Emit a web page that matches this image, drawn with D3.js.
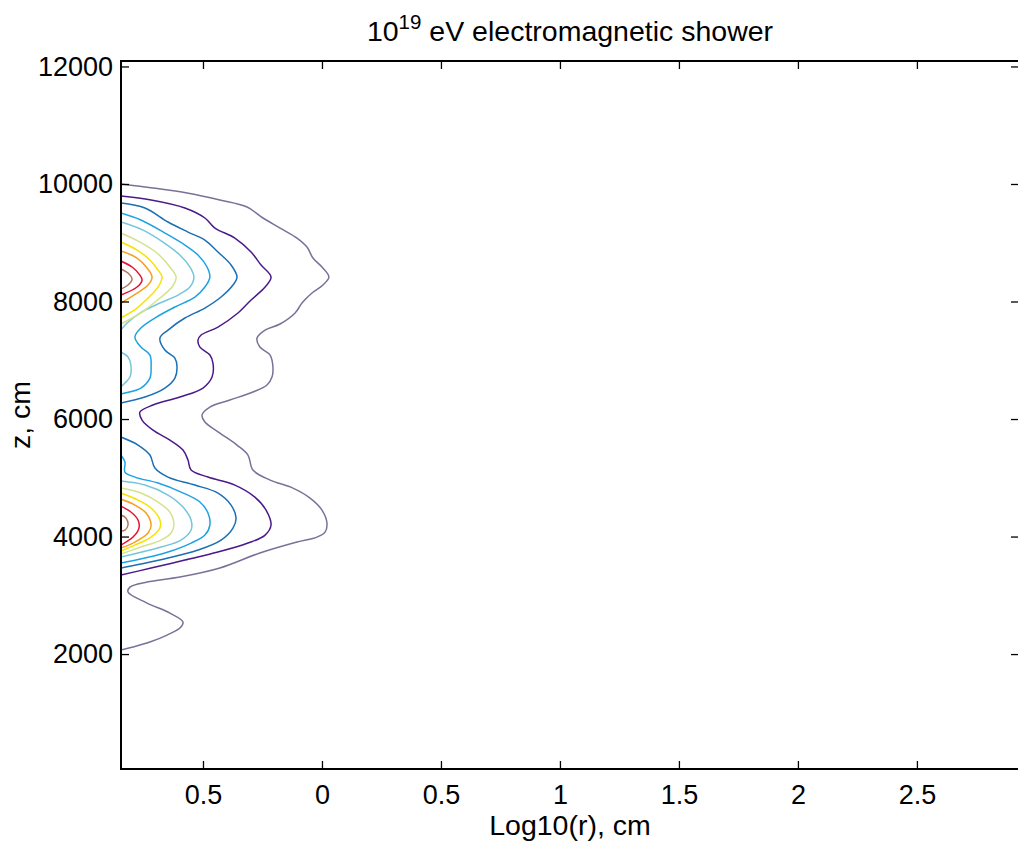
<!DOCTYPE html>
<html>
<head>
<meta charset="utf-8">
<script src="https://cdn.jsdelivr.net/npm/d3@7"></script>
<style>
  html, body { margin: 0; padding: 0; background: #fff; }
  svg { display: block; }
  text { font-family: "Liberation Sans", Arial, Helvetica, sans-serif; fill: #000; }
</style>
</head>
<body>
<svg id="chart" width="1018" height="842"></svg>
<script>
// Axis ticks and labels
const xTicks = [-0.5, 0, 0.5, 1, 1.5, 2, 2.5];
const xTickLabels = ["0.5", "0", "0.5", "1", "1.5", "2", "2.5"];
const zTicks = [2000, 4000, 6000, 8000, 10000, 12000];
const zTickLabels = ["2000", "4000", "6000", "8000", "10000", "12000"];

// Contour level colours, outermost (lowest density) to innermost
const levelColors = ["#7b7098", "#4a1a8a", "#1b6fb5", "#1ea2e2", "#74c6da",
                     "#d2e38c", "#f7e200", "#f5a021", "#e5122f", "#b07a62"];

// Contour lines as [log10(r), z] points, one array per line segment
const level1 = [[-0.845,10000],[-0.710,9931],[-0.567,9846],[-0.429,9727],[-0.315,9608],[-0.248,9421],
  [-0.176,9250],[-0.105,9080],[-0.063,8927],[-0.038,8740],[0.000,8587],[0.029,8416],[0.004,8280],
  [-0.042,8144],[-0.084,7974],[-0.113,7804],[-0.176,7617],[-0.239,7514],[-0.273,7378],[-0.261,7225],
  [-0.218,7089],[-0.206,6885],[-0.210,6714],[-0.231,6578],[-0.290,6459],[-0.387,6323],[-0.471,6204],
  [-0.504,6068],[-0.492,5949],[-0.429,5761],[-0.357,5557],[-0.311,5387],[-0.290,5132],[-0.218,4961],
  [-0.122,4825],[-0.050,4655],[0.000,4451],[0.021,4230],[0.013,4076],[-0.021,3991],[-0.105,3906],
  [-0.261,3719],[-0.429,3464],[-0.597,3310],[-0.735,3225],[-0.807,3140],[-0.815,3055],[-0.735,2868],
  [-0.639,2698],[-0.584,2545],[-0.597,2442],[-0.651,2323],[-0.723,2204],[-0.794,2119],[-0.845,2068]];

const level2 = [[-0.845,9795],[-0.718,9727],[-0.576,9591],[-0.492,9421],[-0.450,9250],[-0.366,9080],
  [-0.298,8842],[-0.256,8621],[-0.214,8416],[-0.239,8246],[-0.298,8025],[-0.353,7804],[-0.437,7565],
  [-0.508,7429],[-0.521,7344],[-0.513,7225],[-0.471,7089],[-0.458,6953],[-0.462,6714],[-0.500,6527],
  [-0.597,6374],[-0.710,6238],[-0.765,6119],[-0.756,5983],[-0.710,5812],[-0.639,5642],[-0.584,5472],
  [-0.563,5302],[-0.550,5132],[-0.479,5012],[-0.366,4876],[-0.282,4672],[-0.235,4451],[-0.214,4196],
  [-0.239,4025],[-0.311,3889],[-0.437,3736],[-0.576,3600],[-0.718,3464],[-0.845,3344]];

const level3Upper = [[-0.845,9676],[-0.744,9591],[-0.647,9353],[-0.563,9182],[-0.492,9046],[-0.437,8842],
  [-0.382,8621],[-0.357,8416],[-0.374,8280],[-0.424,8076],[-0.492,7889],[-0.576,7719],[-0.647,7514],
  [-0.681,7378],[-0.660,7174],[-0.618,7038],[-0.609,6885],[-0.618,6697],[-0.660,6527],[-0.744,6374],
  [-0.845,6272]];
const level3Lower = [[-0.845,5693],[-0.773,5557],[-0.723,5387],[-0.702,5166],[-0.647,5012],[-0.534,4876],
  [-0.437,4740],[-0.382,4536],[-0.361,4315],[-0.374,4144],[-0.424,3940],[-0.521,3770],[-0.647,3634],
  [-0.761,3532],[-0.845,3464]];

const level4Upper = [[-0.845,9506],[-0.761,9387],[-0.660,9165],[-0.576,8961],[-0.521,8791],[-0.483,8587],
  [-0.471,8416],[-0.492,8246],[-0.534,8076],[-0.618,7906],[-0.702,7719],[-0.761,7548],[-0.786,7395],
  [-0.761,7225],[-0.723,7089],[-0.718,6885],[-0.723,6697],[-0.761,6527],[-0.828,6442],[-0.845,6425]];
const level4Lower = [[-0.845,5387],[-0.828,5268],[-0.828,5098],[-0.786,5012],[-0.689,4910],[-0.592,4757],
  [-0.513,4587],[-0.479,4400],[-0.471,4196],[-0.492,4025],[-0.550,3889],[-0.647,3736],[-0.744,3634],
  [-0.845,3549]];

const level5Upper = [[-0.845,9353],[-0.752,9216],[-0.668,9012],[-0.597,8791],[-0.555,8587],[-0.538,8416],
  [-0.555,8246],[-0.605,8110],[-0.681,7974],[-0.765,7804],[-0.819,7634],[-0.845,7514]];
const level5Middle = [[-0.845,7140],[-0.815,7055],[-0.803,6919],[-0.807,6714],[-0.828,6612],[-0.845,6544]];
const level5Lower = [[-0.845,4944],[-0.744,4876],[-0.647,4706],[-0.584,4502],[-0.550,4281],[-0.550,4110],
  [-0.592,3940],[-0.676,3821],[-0.773,3719],[-0.845,3651]];

const level6Upper = [[-0.845,9165],[-0.765,9012],[-0.693,8825],[-0.639,8587],[-0.613,8416],[-0.630,8246],
  [-0.681,8059],[-0.744,7855],[-0.798,7719],[-0.845,7617]];
const level6Lower = [[-0.845,4825],[-0.761,4740],[-0.689,4587],[-0.639,4417],[-0.622,4196],[-0.634,4059],
  [-0.676,3940],[-0.761,3821],[-0.845,3702]];

const level7Upper = [[-0.845,9012],[-0.777,8876],[-0.723,8706],[-0.689,8536],[-0.672,8416],[-0.689,8246],
  [-0.731,8059],[-0.777,7889],[-0.845,7719]];
const level7Lower = [[-0.845,4740],[-0.773,4621],[-0.718,4485],[-0.681,4281],[-0.681,4144],[-0.718,3991],
  [-0.786,3855],[-0.845,3753]];

const level8Upper = [[-0.845,8859],[-0.777,8740],[-0.735,8570],[-0.714,8416],[-0.731,8280],[-0.777,8144],
  [-0.845,7974]];
const level8Lower = [[-0.845,4638],[-0.786,4536],[-0.739,4400],[-0.718,4196],[-0.731,4059],[-0.786,3906],
  [-0.845,3804]];

const level9Upper = [[-0.845,8689],[-0.798,8587],[-0.765,8450],[-0.756,8365],[-0.777,8246],[-0.845,8110]];
const level9Lower = [[-0.845,4519],[-0.803,4417],[-0.773,4281],[-0.769,4144],[-0.794,3991],[-0.845,3855]];

const level10Upper = [[-0.845,8553],[-0.815,8485],[-0.798,8382],[-0.815,8280],[-0.845,8212]];
const level10Lower = [[-0.845,4366],[-0.824,4315],[-0.815,4196],[-0.828,4110],[-0.845,4093]];

const contourLines = [
  { level: 0, points: level1 },
  { level: 1, points: level2 },
  { level: 2, points: level3Upper }, { level: 2, points: level3Lower },
  { level: 3, points: level4Upper }, { level: 3, points: level4Lower },
  { level: 4, points: level5Upper }, { level: 4, points: level5Middle }, { level: 4, points: level5Lower },
  { level: 5, points: level6Upper }, { level: 5, points: level6Lower },
  { level: 6, points: level7Upper }, { level: 6, points: level7Lower },
  { level: 7, points: level8Upper }, { level: 7, points: level8Lower },
  { level: 8, points: level9Upper }, { level: 8, points: level9Lower },
  { level: 9, points: level10Upper }, { level: 9, points: level10Lower }
];

// Layout
const plot = { left: 121, right: 1019, top: 61, bottom: 769 };
const tickFont = 27;
const labelFont = 28.5;

const svg = d3.select("#chart");

const x = d3.scaleLinear().domain([-0.8445, 2.929]).range([plot.left, plot.right]);
const z = d3.scaleLinear().domain([44, 12093]).range([plot.bottom, plot.top]);

svg.append("defs").append("clipPath").attr("id", "plotClip")
  .append("rect")
  .attr("x", plot.left).attr("y", plot.top)
  .attr("width", plot.right - plot.left).attr("height", plot.bottom - plot.top);

// Contour lines
const line = d3.line()
  .x(d => x(d[0]))
  .y(d => z(d[1]))
  .curve(d3.curveCatmullRom.alpha(0.5));

svg.append("g").attr("clip-path", "url(#plotClip)")
  .selectAll("path")
  .data(contourLines)
  .join("path")
  .attr("d", d => line(d.points))
  .attr("fill", "none")
  .attr("stroke", d => levelColors[d.level])
  .attr("stroke-width", 1.5)
  .attr("stroke-linejoin", "round");

// Axes (ticks pointing inward, MATLAB style)
const tickLen = 8;
const xAxisB = svg.append("g").attr("transform", `translate(0,${plot.bottom})`)
  .call(d3.axisBottom(x).tickValues(xTicks).tickFormat((d, i) => xTickLabels[i])
    .tickSizeInner(-tickLen).tickSizeOuter(0).tickPadding(16));
const xAxisT = svg.append("g").attr("transform", `translate(0,${plot.top})`)
  .call(d3.axisTop(x).tickValues(xTicks).tickFormat("")
    .tickSizeInner(-tickLen).tickSizeOuter(0));
const zAxisL = svg.append("g").attr("transform", `translate(${plot.left},0)`)
  .call(d3.axisLeft(z).tickValues(zTicks).tickFormat((d, i) => zTickLabels[i])
    .tickSizeInner(-tickLen).tickSizeOuter(0).tickPadding(8));
const zAxisR = svg.append("g").attr("transform", `translate(${plot.right},0)`)
  .call(d3.axisRight(z).tickValues(zTicks).tickFormat("")
    .tickSizeInner(-tickLen).tickSizeOuter(0));

[xAxisB, xAxisT, zAxisL, zAxisR].forEach(g => {
  g.select(".domain").remove();
  g.selectAll(".tick line").attr("stroke", "#000").attr("stroke-width", 1.3);
  g.selectAll("text").attr("font-size", tickFont)
    .attr("font-family", "'Liberation Sans', Arial, sans-serif").attr("fill", "#000");
});

// Axes box
svg.append("rect")
  .attr("x", plot.left).attr("y", plot.top)
  .attr("width", plot.right - plot.left).attr("height", plot.bottom - plot.top)
  .attr("fill", "none").attr("stroke", "#000").attr("stroke-width", 2);

// Title with superscript exponent
const title = svg.append("text")
  .attr("x", (plot.left + plot.right) / 2).attr("y", 41)
  .attr("text-anchor", "middle").attr("font-size", labelFont);
title.append("tspan").text("10");
title.append("tspan").attr("font-size", labelFont * 0.72).attr("dy", -12).text("19");
title.append("tspan").attr("dy", 12).text(" eV electromagnetic shower");

// Axis labels
svg.append("text")
  .attr("x", (plot.left + plot.right) / 2).attr("y", 835)
  .attr("text-anchor", "middle").attr("font-size", labelFont)
  .text("Log10(r), cm");

svg.append("text")
  .attr("transform", `translate(30,${(plot.top + plot.bottom) / 2}) rotate(-90)`)
  .attr("text-anchor", "middle").attr("font-size", labelFont)
  .text("z, cm");
</script>
</body>
</html>
